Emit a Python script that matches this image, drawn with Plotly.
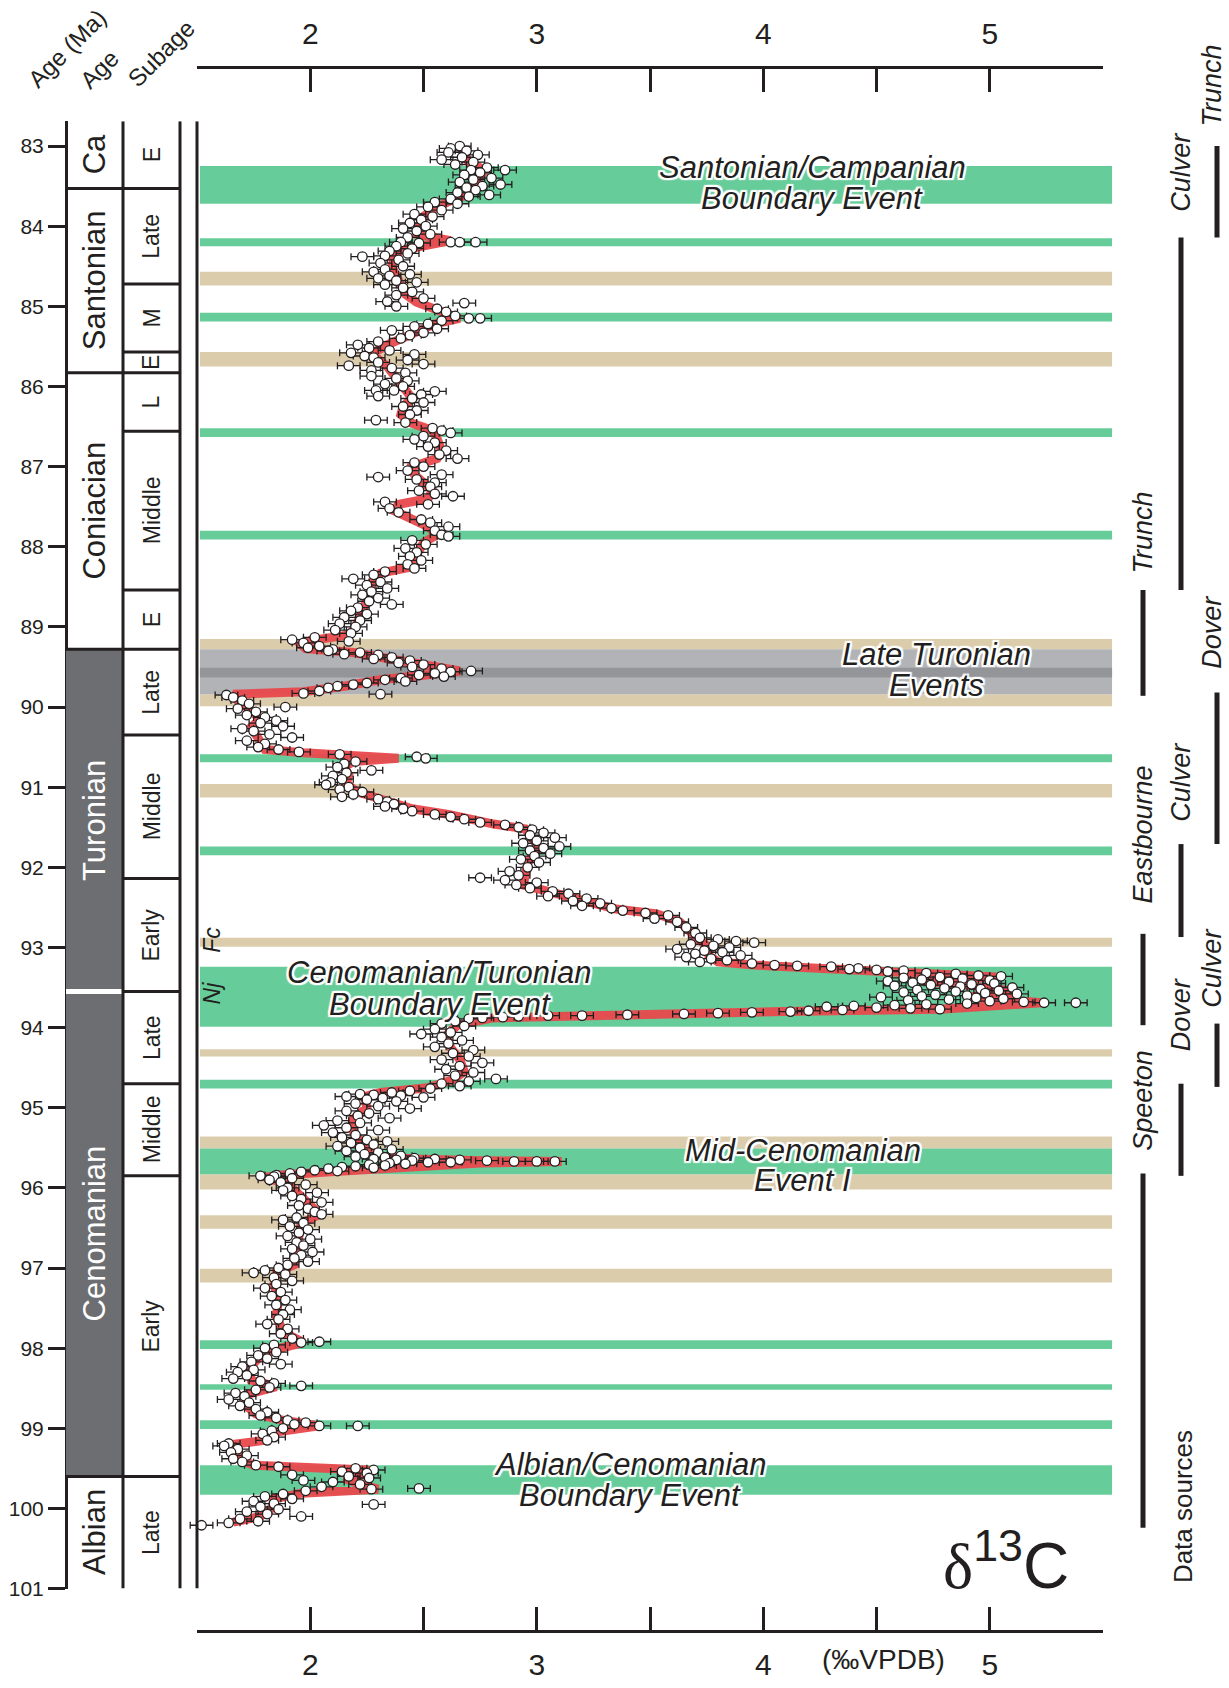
import plotly.graph_objects as go

W, H = 1229, 1688
INK = "#231F20"
FONT = "Liberation Sans, Arial, Helvetica, sans-serif"

# ---------------- chronostratigraphy (Ma) ----------------
stage_names = ["Ca", "Santonian", "Coniacian", "Turonian", "Cenomanian", "Albian"]
stage_top = [82.69, 83.53, 85.83, 89.28, 93.55, 99.60]
stage_base = [83.53, 85.83, 89.28, 93.55, 99.60, 101.0]
stage_dark = [False, False, False, True, True, False]

substage_names = ["E", "Late", "M", "E", "L", "Middle", "E",
                  "Late", "Middle", "Early", "Late", "Middle", "Early", "Late"]
substage_top = [82.69, 83.53, 84.72, 85.57, 85.83, 86.56, 88.54,
                89.28, 90.35, 92.14, 93.55, 94.70, 95.85, 99.60]
substage_base = [83.53, 84.72, 85.57, 85.83, 86.56, 88.54, 89.28,
                 90.35, 92.14, 93.55, 94.70, 95.85, 99.60, 101.0]

age_ticks = list(range(83, 102))
d13c_ticks = [1.5, 2, 2.5, 3, 3.5, 4, 4.5, 5, 5.5]
d13c_ticktext = ["", "2", "", "3", "", "4", "", "5", ""]

# ---------------- carbon-isotope event bands (Ma) ----------------
green_bands = [(83.25, 83.72), (84.15, 84.25), (85.08, 85.19), (86.52, 86.63),
               (87.80, 87.91), (90.59, 90.69), (91.74, 91.85), (93.24, 93.99),
               (94.65, 94.76), (95.51, 95.83), (97.90, 98.01), (98.45, 98.52),
               (98.90, 99.01), (99.46, 99.83)]
tan_bands = [(84.57, 84.74), (85.57, 85.75), (89.15, 89.28), (89.84, 89.99),
             (90.96, 91.13), (92.88, 92.99), (94.27, 94.36), (95.36, 95.51),
             (95.83, 96.02), (96.34, 96.51), (97.01, 97.18)]
grey_bands = [(89.28, 89.84)]
dark_grey_bands = [(89.51, 89.63)]

# ---------------- data sources (sections) ----------------
source_names = ["Trunch", "Culver", "Trunch", "Dover", "Culver",
                "Eastbourne", "Dover", "Culver", "Speeton"]
source_col = [3, 2, 1, 3, 2, 1, 2, 3, 1]
source_from = [83.00, 84.14, 88.54, 89.82, 91.71, 92.83, 94.70, 93.95, 95.82]
source_to = [84.14, 88.54, 89.86, 91.71, 92.87, 93.97, 95.85, 94.74, 100.24]

# ---------------- smoothed d13C curve ----------------
curve_age = [83.00, 83.10, 83.20, 83.30, 83.40, 83.50, 83.60, 83.68, 83.78, 83.88,
             84.00, 84.10, 84.18, 84.22, 84.30, 84.40, 84.50, 84.62, 84.75, 84.85,
             84.95, 85.05, 85.15, 85.22, 85.30, 85.40, 85.48, 85.58, 85.66, 85.75,
             85.85, 85.95, 86.05, 86.15, 86.25, 86.35, 86.45, 86.55, 86.65, 86.80,
             86.90, 87.00, 87.10, 87.20, 87.30, 87.40, 87.47, 87.55, 87.65, 87.75,
             87.85, 87.95, 88.10, 88.25, 88.33, 88.45, 88.60, 88.75, 88.86, 89.00,
             89.10, 89.17, 89.22, 89.27, 89.32, 89.41, 89.49, 89.55, 89.60, 89.66,
             89.74, 89.81, 89.84, 89.92, 90.05, 90.15, 90.25, 90.35, 90.45, 90.53,
             90.57, 90.60, 90.64, 90.68, 90.75, 90.85, 90.95, 91.05, 91.12, 91.20,
             91.27, 91.34, 91.46, 91.52, 91.60, 91.75, 91.85, 91.95, 92.10, 92.22,
             92.30, 92.40, 92.48, 92.52, 92.58, 92.68, 92.89, 93.00, 93.10, 93.18,
             93.22, 93.25, 93.28, 93.32, 93.37, 93.42, 93.48, 93.55, 93.62, 93.69,
             93.74, 93.77, 93.80, 93.83, 93.86, 93.88, 93.97, 94.10, 94.25, 94.40,
             94.55, 94.65, 94.75, 94.81, 94.86, 95.00, 95.14, 95.25, 95.38, 95.50,
             95.60, 95.64, 95.66, 95.67, 95.69, 95.74, 95.80, 95.84, 95.87, 95.95,
             96.02, 96.12, 96.24, 96.33, 96.45, 96.60, 96.80, 96.96, 97.05, 97.20,
             97.40, 97.60, 97.80, 97.93, 98.00, 98.10, 98.25, 98.40, 98.48, 98.57,
             98.70, 98.82, 98.90, 98.97, 99.05, 99.15, 99.21, 99.30, 99.40, 99.46,
             99.48, 99.52, 99.56, 99.62, 99.70, 99.76, 99.81, 99.88, 100.00, 100.10,
             100.17]
curve_d13c = [2.66, 2.68, 2.70, 2.77, 2.74, 2.72, 2.70, 2.62, 2.55, 2.50,
              2.48, 2.47, 2.62, 2.55, 2.40, 2.37, 2.36, 2.38, 2.40, 2.42,
              2.47, 2.58, 2.66, 2.55, 2.48, 2.40, 2.34, 2.28, 2.30, 2.34,
              2.37, 2.40, 2.43, 2.45, 2.41, 2.40, 2.44, 2.54, 2.56, 2.58,
              2.56, 2.45, 2.46, 2.50, 2.54, 2.52, 2.39, 2.37, 2.45, 2.52,
              2.56, 2.50, 2.47, 2.45, 2.31, 2.27, 2.26, 2.24, 2.22, 2.20,
              2.17, 2.00, 1.96, 1.98, 2.19, 2.37, 2.53, 2.66, 2.51, 2.31,
              2.15, 1.97, 1.66, 1.68, 1.74, 1.78, 1.74, 1.76, 1.78, 1.80,
              1.97, 2.15, 2.39, 2.19, 2.15, 2.17, 2.16, 2.20, 2.27, 2.37,
              2.45, 2.61, 2.81, 2.95, 2.97, 3.01, 2.98, 2.96, 2.95, 2.94,
              3.05, 3.20, 3.30, 3.35, 3.53, 3.63, 3.71, 3.76, 3.76, 3.80,
              3.96, 4.22, 4.47, 4.68, 5.03, 4.70, 4.95, 5.10, 4.90, 5.23,
              5.00, 4.78, 4.09, 3.58, 2.95, 2.80, 2.65, 2.60, 2.62, 2.66,
              2.68, 2.63, 2.52, 2.31, 2.24, 2.25, 2.19, 2.18, 2.21, 2.26,
              2.28, 2.46, 2.75, 3.11, 2.75, 2.38, 2.09, 1.87, 1.80, 1.90,
              1.93, 1.97, 2.01, 2.04, 1.96, 1.95, 1.94, 1.93, 1.85, 1.84,
              1.86, 1.85, 1.88, 1.97, 1.87, 1.78, 1.73, 1.74, 1.85, 1.73,
              1.71, 1.76, 1.88, 2.04, 1.84, 1.80, 1.63, 1.66, 1.70, 1.75,
              1.90, 2.25, 2.28, 2.15, 2.22, 2.30, 1.96, 1.84, 1.83, 1.78,
              1.66]

# ---------------- bulk-carbonate samples (age Ma, d13C permil) ----------------
samples_santonian = [
    (83.00, 2.66), (83.03, 2.62), (83.06, 2.69), (83.08, 2.61), (83.11, 2.74),
    (83.14, 2.67), (83.17, 2.58), (83.20, 2.72), (83.23, 2.64), (83.27, 2.78),
    (83.30, 2.86), (83.30, 2.71), (83.33, 2.75), (83.36, 2.68), (83.40, 2.80),
    (83.42, 2.72), (83.45, 2.66), (83.48, 2.84), (83.50, 2.76), (83.52, 2.69),
    (83.55, 2.73), (83.58, 2.65), (83.61, 2.79), (83.63, 2.70), (83.66, 2.62),
    (83.70, 2.55), (83.72, 2.65), (83.76, 2.52), (83.80, 2.58), (83.85, 2.46),
    (83.88, 2.54), (83.92, 2.49), (83.96, 2.44), (84.00, 2.51), (84.03, 2.41),
    (84.06, 2.47), (84.10, 2.53), (84.14, 2.43), (84.20, 2.62), (84.20, 2.66),
    (84.20, 2.73), (84.20, 2.40), (84.21, 2.48), (84.25, 2.38), (84.28, 2.45),
    (84.31, 2.35), (84.34, 2.43), (84.37, 2.33), (84.38, 2.23), (84.42, 2.39),
    (84.46, 2.31), (84.50, 2.41), (84.54, 2.33), (84.57, 2.28), (84.60, 2.44),
    (84.62, 2.35), (84.65, 2.30), (84.68, 2.38), (84.70, 2.47), (84.73, 2.33),
    (84.77, 2.41), (84.82, 2.45), (84.86, 2.38), (84.90, 2.50), (84.94, 2.34),
    (84.96, 2.68), (85.00, 2.38), (85.03, 2.56), (85.07, 2.60), (85.12, 2.64),
    (85.15, 2.70), (85.15, 2.75), (85.18, 2.58), (85.22, 2.52), (85.25, 2.46),
    (85.28, 2.56), (85.30, 2.36), (85.33, 2.50), (85.36, 2.44), (85.40, 2.40),
    (85.44, 2.30), (85.48, 2.21), (85.52, 2.26), (85.55, 2.35), (85.58, 2.18),
    (85.60, 2.46), (85.62, 2.24), (85.64, 2.28), (85.67, 2.43), (85.70, 2.30),
    (85.72, 2.50), (85.74, 2.17), (85.77, 2.36), (85.80, 2.27),
]
samples_coniacian = [
    (85.83, 2.42), (85.87, 2.27), (85.90, 2.38), (85.93, 2.43), (85.97, 2.33),
    (86.00, 2.41), (86.05, 2.29), (86.05, 2.37), (86.06, 2.55), (86.10, 2.49),
    (86.12, 2.30), (86.15, 2.45), (86.20, 2.50), (86.25, 2.41), (86.30, 2.47),
    (86.35, 2.44), (86.42, 2.29), (86.45, 2.42), (86.52, 2.54), (86.55, 2.58),
    (86.58, 2.62), (86.62, 2.50), (86.66, 2.46), (86.70, 2.55), (86.75, 2.52),
    (86.80, 2.60), (86.85, 2.57), (86.90, 2.65), (86.95, 2.46), (87.00, 2.50),
    (87.05, 2.43), (87.10, 2.58), (87.13, 2.30), (87.16, 2.47), (87.20, 2.55),
    (87.25, 2.53), (87.30, 2.48), (87.34, 2.55), (87.37, 2.63), (87.44, 2.33),
    (87.47, 2.52), (87.52, 2.35), (87.57, 2.39), (87.66, 2.49), (87.70, 2.53),
    (87.75, 2.61), (87.80, 2.55), (87.85, 2.58), (87.87, 2.61), (87.92, 2.45),
    (87.97, 2.51), (88.02, 2.42), (88.07, 2.47), (88.12, 2.44), (88.17, 2.49),
    (88.22, 2.43), (88.27, 2.46), (88.31, 2.33), (88.35, 2.28), (88.40, 2.19),
    (88.44, 2.31), (88.48, 2.25), (88.52, 2.34), (88.56, 2.27), (88.60, 2.23),
    (88.64, 2.30), (88.68, 2.26), (88.72, 2.36), (88.76, 2.21), (88.80, 2.18),
    (88.84, 2.25), (88.88, 2.15), (88.92, 2.22), (88.96, 2.13), (89.00, 2.20),
    (89.04, 2.11), (89.08, 2.18), (89.13, 2.02), (89.16, 1.92), (89.18, 2.17),
    (89.20, 1.97), (89.24, 2.04), (89.26, 1.99),
]
samples_turonian = [
    (89.28, 2.10), (89.30, 2.08), (89.32, 2.22), (89.34, 2.15), (89.35, 2.30),
    (89.38, 2.36), (89.40, 2.28), (89.42, 2.44), (89.45, 2.39), (89.47, 2.50),
    (89.50, 2.45), (89.52, 2.58), (89.55, 2.71), (89.56, 2.62), (89.58, 2.55),
    (89.60, 2.48), (89.62, 2.59), (89.64, 2.40), (89.66, 2.33), (89.68, 2.42),
    (89.70, 2.25), (89.72, 2.19), (89.74, 2.12), (89.76, 2.08), (89.80, 2.04),
    (89.83, 1.97), (89.84, 2.31), (89.85, 1.63), (89.88, 1.66), (89.92, 1.70),
    (89.96, 1.73), (90.00, 1.89), (90.02, 1.68), (90.06, 1.76), (90.10, 1.72),
    (90.13, 1.80), (90.17, 1.85), (90.20, 1.78), (90.24, 1.88), (90.27, 1.70),
    (90.30, 1.75), (90.34, 1.82), (90.38, 1.92), (90.42, 1.72), (90.46, 1.80),
    (90.50, 1.77), (90.53, 1.86), (90.56, 1.95), (90.59, 2.13), (90.62, 2.47),
    (90.64, 2.51), (90.68, 2.20), (90.71, 2.15), (90.75, 2.12), (90.79, 2.27),
    (90.82, 2.16), (90.86, 2.10), (90.90, 2.14), (90.94, 2.09), (90.97, 2.07),
    (91.00, 2.17), (91.03, 2.13), (91.06, 2.23), (91.09, 2.19), (91.12, 2.14),
    (91.15, 2.30), (91.18, 2.34), (91.21, 2.37), (91.24, 2.33), (91.27, 2.41),
    (91.30, 2.45), (91.34, 2.55), (91.37, 2.62), (91.40, 2.68), (91.44, 2.75),
    (91.47, 2.86), (91.50, 2.92), (91.53, 2.98), (91.57, 3.03), (91.60, 2.97),
    (91.63, 3.08), (91.67, 3.00), (91.70, 2.94), (91.74, 3.10), (91.76, 3.03),
    (91.79, 2.97), (91.83, 3.06), (91.86, 2.99), (91.90, 2.93), (91.94, 3.01),
    (92.00, 2.96), (92.05, 2.88), (92.10, 2.92), (92.13, 2.75), (92.16, 2.86),
    (92.19, 3.00), (92.22, 2.91), (92.26, 2.97), (92.30, 3.07), (92.33, 3.14),
    (92.36, 3.05), (92.39, 3.22), (92.42, 3.16), (92.45, 3.28), (92.48, 3.20),
    (92.51, 3.33), (92.54, 3.38), (92.57, 3.48), (92.60, 3.58), (92.64, 3.52),
    (92.68, 3.62), (92.75, 3.66), (92.82, 3.70), (92.88, 3.72), (92.90, 3.80),
    (92.92, 3.88), (92.94, 3.96), (92.96, 3.68), (92.98, 3.78), (93.00, 3.85),
    (93.02, 3.62), (93.04, 3.74), (93.06, 3.82), (93.08, 3.70), (93.10, 3.90),
    (93.12, 3.66), (93.14, 3.77), (93.16, 3.84), (93.18, 3.72), (93.20, 3.95),
    (93.22, 4.05), (93.23, 4.15), (93.24, 4.30), (93.26, 4.42), (93.27, 4.38),
    (93.28, 4.50), (93.29, 4.62), (93.30, 4.55), (93.32, 4.72), (93.33, 4.85),
    (93.35, 4.95), (93.36, 5.05), (93.37, 4.78), (93.38, 4.62), (93.39, 4.88),
    (93.40, 4.70), (93.41, 5.00), (93.42, 4.55), (93.43, 4.82), (93.44, 4.66),
    (93.45, 5.02), (93.46, 4.92), (93.47, 4.74), (93.48, 4.58), (93.49, 4.87),
    (93.50, 5.10), (93.51, 4.80), (93.52, 4.96), (93.53, 4.68), (93.54, 5.04),
]
samples_cenomanian = [
    (93.55, 4.85), (93.56, 4.62), (93.57, 4.98), (93.58, 5.12), (93.59, 4.76),
    (93.60, 4.90), (93.61, 4.70), (93.62, 4.52), (93.63, 4.94), (93.64, 5.06),
    (93.65, 4.82), (93.66, 4.64), (93.67, 5.00), (93.68, 5.15), (93.69, 5.24),
    (93.69, 5.38), (93.70, 4.90), (93.71, 4.72), (93.72, 4.58), (93.73, 4.40),
    (93.74, 4.28), (93.75, 4.50), (93.76, 4.65), (93.77, 4.78), (93.78, 4.35),
    (93.79, 4.20), (93.80, 4.12), (93.81, 3.95), (93.82, 3.80), (93.83, 3.65),
    (93.84, 3.40), (93.85, 3.20), (93.85, 3.05), (93.86, 2.92), (93.87, 2.85),
    (93.88, 2.76), (93.89, 2.70), (93.92, 2.64), (93.95, 2.58), (93.98, 2.68),
    (94.02, 2.55), (94.06, 2.62), (94.08, 2.49), (94.12, 2.58), (94.16, 2.67),
    (94.20, 2.61), (94.24, 2.55), (94.28, 2.72), (94.32, 2.63), (94.36, 2.70),
    (94.40, 2.58), (94.44, 2.76), (94.48, 2.66), (94.52, 2.60), (94.56, 2.72),
    (94.60, 2.64), (94.64, 2.82), (94.67, 2.70), (94.70, 2.58), (94.73, 2.66),
    (94.76, 2.53), (94.79, 2.44), (94.81, 2.36), (94.83, 2.22), (94.84, 2.28),
    (94.85, 2.40), (94.86, 2.16), (94.87, 2.50), (94.88, 2.32), (94.90, 2.25),
    (94.92, 2.38), (94.95, 2.20), (94.98, 2.30), (95.01, 2.44), (95.04, 2.16),
    (95.07, 2.26), (95.10, 2.21), (95.13, 2.35), (95.16, 2.12), (95.19, 2.22),
    (95.22, 2.06), (95.25, 2.16), (95.28, 2.30), (95.31, 2.10), (95.34, 2.20),
    (95.37, 2.14), (95.40, 2.25), (95.42, 2.34), (95.44, 2.18), (95.46, 2.28),
    (95.48, 2.12), (95.50, 2.22), (95.52, 2.36), (95.54, 2.16), (95.56, 2.30),
    (95.58, 2.24), (95.60, 2.40), (95.61, 2.20), (95.62, 2.33), (95.63, 2.46),
    (95.64, 2.28), (95.64, 2.55), (95.65, 2.38), (95.65, 2.66), (95.66, 2.45),
    (95.66, 2.78), (95.67, 2.90), (95.67, 3.00), (95.67, 3.08), (95.68, 2.62),
    (95.68, 2.52), (95.69, 2.35), (95.70, 2.42), (95.71, 2.26), (95.72, 2.33),
    (95.73, 2.20), (95.74, 2.14), (95.75, 2.28), (95.76, 2.08), (95.78, 2.02),
    (95.79, 2.12), (95.80, 1.96), (95.82, 1.91), (95.84, 1.85), (95.85, 1.78),
    (95.86, 1.84), (95.88, 1.92), (95.90, 1.82), (95.93, 1.87), (95.96, 1.98),
    (96.00, 1.90), (96.03, 1.88), (96.06, 2.03), (96.10, 1.92), (96.14, 1.96),
    (96.18, 2.05), (96.22, 1.95), (96.26, 1.99), (96.30, 2.02), (96.33, 2.05),
    (96.37, 1.94), (96.40, 1.88), (96.44, 1.97), (96.48, 1.91), (96.52, 1.99),
    (96.56, 1.95), (96.60, 1.90), (96.64, 2.00), (96.68, 1.94), (96.72, 1.97),
    (96.76, 1.92), (96.80, 2.01), (96.84, 1.96), (96.88, 1.93), (96.92, 1.99),
    (96.96, 1.90), (97.00, 1.86), (97.03, 1.80), (97.06, 1.75), (97.08, 1.89),
    (97.12, 1.84), (97.16, 1.92), (97.20, 1.85), (97.25, 1.80), (97.30, 1.87),
    (97.35, 1.83), (97.40, 1.89), (97.46, 1.85), (97.52, 1.91), (97.58, 1.88),
    (97.64, 1.86), (97.70, 1.81), (97.76, 1.90), (97.82, 1.87), (97.88, 1.92),
    (97.92, 2.04), (97.93, 1.96), (97.96, 1.84), (98.00, 1.80), (98.05, 1.85),
    (98.09, 1.77), (98.13, 1.81), (98.17, 1.74), (98.20, 1.87), (98.23, 1.70),
    (98.27, 1.75), (98.30, 1.68), (98.34, 1.72), (98.38, 1.66), (98.41, 1.78),
    (98.44, 1.84), (98.47, 1.96), (98.49, 1.82), (98.52, 1.76), (98.56, 1.67),
    (98.60, 1.71), (98.64, 1.64), (98.68, 1.73), (98.72, 1.69), (98.76, 1.76),
    (98.80, 1.81), (98.84, 1.78), (98.87, 1.85), (98.90, 1.90), (98.93, 1.98),
    (98.95, 1.93), (98.97, 2.04), (98.97, 2.21), (99.00, 1.88), (99.03, 1.83),
    (99.07, 1.79), (99.11, 1.84), (99.15, 1.81), (99.19, 1.64), (99.22, 1.62),
    (99.26, 1.68), (99.30, 1.65), (99.34, 1.72), (99.38, 1.66), (99.42, 1.70),
    (99.46, 1.76), (99.48, 1.86), (99.50, 2.20), (99.52, 2.28), (99.54, 2.14),
    (99.56, 2.25), (99.58, 1.92),
]
samples_albian = [
    (99.60, 2.17), (99.62, 2.26), (99.65, 1.97), (99.67, 2.10), (99.70, 2.22),
    (99.73, 2.05), (99.75, 2.48), (99.76, 2.27), (99.78, 1.98), (99.82, 1.88),
    (99.85, 1.80), (99.88, 1.92), (99.91, 1.75), (99.94, 1.84), (99.95, 2.28),
    (99.98, 1.78), (100.01, 1.86), (100.04, 1.72), (100.07, 1.81), (100.10, 1.96),
    (100.13, 1.69), (100.16, 1.77), (100.18, 1.64), (100.21, 1.52),
]
D13C_ERR = 0.05  # analytical uncertainty (permil)

# ---------------- layout helpers (pixel -> paper) ----------------
def px(x):
    return x / W


def py(y):
    return 1 - y / H


X_LEFT = 1.5 - 197 / 226.5
X_RIGHT = 5.5 + (W - 1103) / 226.5
Y_TOP, Y_BOTTOM = 82.69, 101.0

GREEN = "#66CC99"
TAN = "#DBCCAC"
GREY = "#B1B3B6"
DARK_GREY = "#939598"
STAGE_FILL = "#6D6E71"

fig = go.Figure()

# smoothed curve
fig.add_trace(go.Scatter(
    x=curve_d13c, y=curve_age, mode="lines",
    line=dict(color="rgba(233,72,76,0.95)", width=9),
    hoverinfo="skip", showlegend=False))

# samples with error bars
all_samples = (samples_santonian + samples_coniacian + samples_turonian
               + samples_cenomanian + samples_albian)
fig.add_trace(go.Scatter(
    x=[s[1] for s in all_samples], y=[s[0] for s in all_samples],
    mode="markers",
    marker=dict(size=9.5, color="white", line=dict(color=INK, width=1.3)),
    error_x=dict(type="constant", value=D13C_ERR, color=INK,
                 thickness=1.3, width=3.5),
    showlegend=False, hoverinfo="skip"))

# placeholders so the top and bottom d13C axes are drawn
for ax in ("x2", "x3"):
    fig.add_trace(go.Scatter(x=[None], y=[None], xaxis=ax, yaxis="y",
                             showlegend=False, hoverinfo="skip"))

shapes = []

# event bands
def band(y0, y1, color, x1=5.54):
    shapes.append(dict(type="rect", xref="x", yref="y", x0=1.513, x1=x1,
                       y0=y0, y1=y1, fillcolor=color, line=dict(width=0),
                       layer="below"))


for y0, y1 in tan_bands:
    band(y0, y1, TAN)
for y0, y1 in grey_bands:
    band(y0, y1, GREY)
for y0, y1 in dark_grey_bands:
    band(y0, y1, DARK_GREY)
for y0, y1 in green_bands:
    band(y0, y1, GREEN)

# stratigraphic columns
AGE_L, AGE_R, SUB_R = 66, 123, 180
for name, t, b, dark in zip(stage_names, stage_top, stage_base, stage_dark):
    if dark:
        shapes.append(dict(type="rect", xref="paper", yref="y",
                           x0=px(AGE_L), x1=px(AGE_R), y0=t, y1=b,
                           fillcolor=STAGE_FILL, line=dict(width=0)))
for b in stage_base[:-1]:
    is_white = b == 93.55
    shapes.append(dict(type="line", xref="paper", yref="y",
                       x0=px(AGE_L), x1=px(AGE_R), y0=b, y1=b,
                       line=dict(color="white" if is_white else INK,
                                 width=5 if is_white else 3)))
for b in substage_base[:-1]:
    shapes.append(dict(type="line", xref="paper", yref="y",
                       x0=px(AGE_R), x1=px(SUB_R), y0=b, y1=b,
                       line=dict(color=INK, width=3)))
for xv in (AGE_R, SUB_R):
    shapes.append(dict(type="line", xref="paper", yref="y",
                       x0=px(xv), x1=px(xv), y0=Y_TOP, y1=Y_BOTTOM,
                       line=dict(color=INK, width=3)))
# left border of the isotope panel
shapes.append(dict(type="line", xref="x", yref="y", x0=1.5, x1=1.5,
                   y0=Y_TOP, y1=Y_BOTTOM, line=dict(color=INK, width=3)))

# data-source bars
col_x = {1: 1143, 2: 1181, 3: 1217}
col_text_x = {1: 1143, 2: 1181, 3: 1212}
for c, f, t in zip(source_col, source_from, source_to):
    shapes.append(dict(type="line", xref="paper", yref="y",
                       x0=px(col_x[c]), x1=px(col_x[c]), y0=f, y1=t,
                       line=dict(color=INK, width=5)))

annotations = []

def label(text, x, y, size, angle=0, color=INK, italic=False, xref="paper",
          yref="y", halo=False):
    f = dict(size=size, color=color, family=FONT)
    if italic:
        f["style"] = "italic"
    if halo:
        f["shadow"] = ("white 2px 0px 1px, white -2px 0px 1px, "
                       "white 0px 2px 1px, white 0px -2px 1px, "
                       "white 2px 2px 1px, white -2px -2px 1px, "
                       "white 2px -2px 1px, white -2px 2px 1px")
    annotations.append(dict(text=text, x=x, y=y, xref=xref, yref=yref,
                            showarrow=False, textangle=angle, font=f,
                            xanchor="center", yanchor="middle"))


for name, t, b, dark in zip(stage_names, stage_top, stage_base, stage_dark):
    label(name, px((AGE_L + AGE_R) / 2), (t + b) / 2, 31, angle=-90,
          color="white" if dark else INK)
for name, t, b in zip(substage_names, substage_top, substage_base):
    label(name, px((AGE_R + SUB_R) / 2), (t + b) / 2, 23, angle=-90)

# column headers
label("Age (Ma)", px(67), py(49), 24, angle=-45, yref="paper")
label("Age", px(99), py(70), 24, angle=-45, yref="paper")
label("Subage", px(161), py(54), 24, angle=-45, yref="paper")

# event names
event_lines = [
    ("Santonian/Campanian", 812, 169), ("Boundary Event", 812, 200),
    ("Late Turonian", 936, 659), ("Events", 936, 690),
    ("Cenomanian/Turonian", 439, 979), ("Boundary Event", 440, 1011),
    ("Mid-Cenomanian", 803, 1158), ("Event I", 802, 1188),
    ("Albian/Cenomanian", 630, 1474), ("Boundary Event", 630, 1505),
]
for txt, xp, yp in event_lines:
    label(txt, px(xp), py(yp), 31, italic=True, yref="paper", halo=True)

# nannofossil markers
label("Fc", px(212), py(946), 23, angle=-90, italic=True, yref="paper")
label("Nj", px(212), py(1000), 23, angle=-90, italic=True, yref="paper")

# data-source names
source_label_y = [86, 174, 536, 637, 788, 840, 1022, 975, 1108]
for name, c, yp in zip(source_names, source_col, source_label_y):
    label(name, px(col_text_x[c]), py(yp), 27, angle=-90, italic=True,
          yref="paper")
label("Data sources", px(1183), py(1517), 26, angle=-90, yref="paper")

# proxy title and unit
label("<span style=\"font-family:'Liberation Serif', serif\">δ</span><sup>13</sup>C",
      px(1006), py(1571), 64, yref="paper")
label("(‰VPDB)", px(883), py(1670), 28, yref="paper")

axis_common = dict(showline=True, linewidth=3, linecolor=INK, ticks="inside",
                   ticklen=23, tickwidth=3, tickcolor=INK, tickvals=d13c_ticks,
                   ticktext=d13c_ticktext, tickfont=dict(size=30, color=INK),
                   showgrid=False, zeroline=False, range=[1.5, 5.5],
                   domain=[px(197), px(1103)], anchor="free", fixedrange=True)

fig.update_layout(
    width=W, height=H, autosize=False,
    margin=dict(l=0, r=0, t=0, b=0, pad=0),
    paper_bgcolor="white", plot_bgcolor="rgba(0,0,0,0)",
    font=dict(family=FONT, color=INK),
    showlegend=False,
    xaxis=dict(domain=[0, 1], range=[X_LEFT, X_RIGHT], visible=False,
               fixedrange=True),
    yaxis=dict(domain=[py(1599), py(122)], range=[Y_BOTTOM, Y_TOP],
               anchor="free", position=px(AGE_L), side="left",
               showline=True, linewidth=3, linecolor=INK,
               ticks="outside", ticklen=17, tickwidth=3, tickcolor=INK,
               tickvals=age_ticks, tickfont=dict(size=21, color=INK),
               showgrid=False, zeroline=False, fixedrange=True),
    xaxis2=dict(position=py(67), side="top", ticklabelstandoff=10,
                **axis_common),
    xaxis3=dict(position=py(1642), side="bottom", ticklabelstandoff=6,
                **axis_common),
    shapes=shapes,
    annotations=annotations,
)

fig.write_html("out.html")
